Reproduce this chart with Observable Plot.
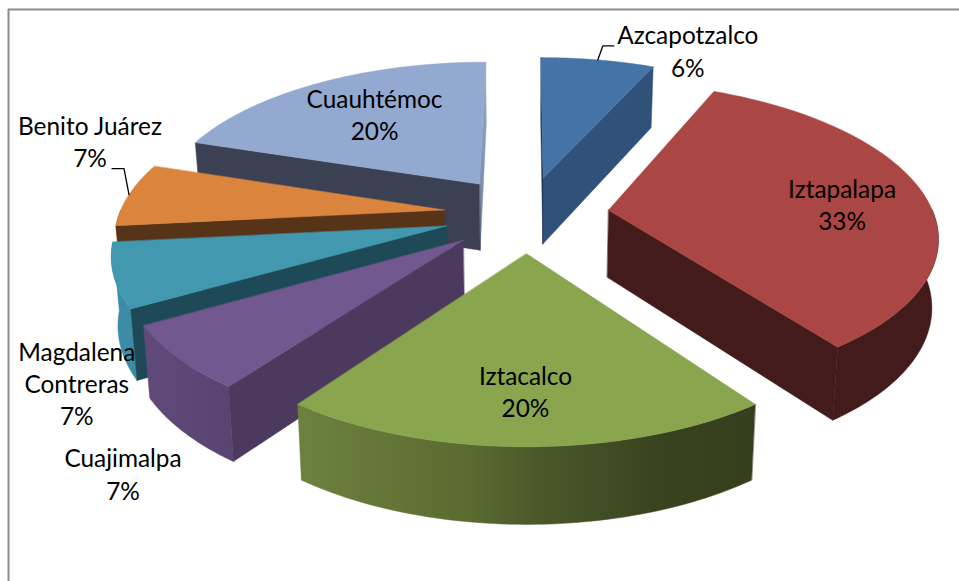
<!DOCTYPE html>
<html>
<head>
<meta charset="utf-8">
<script src="https://cdn.jsdelivr.net/npm/d3@7"></script>
<script src="https://cdn.jsdelivr.net/npm/@observablehq/plot@0.6"></script>
<style>html,body{margin:0;padding:0;background:#fff;overflow:hidden}</style>
</head>
<body>
<div id="chart"></div>
<script>
const categories = ["Azcapotzalco", "Iztapalapa", "Iztacalco", "Cuajimalpa", "Magdalena\nContreras", "Benito Juárez", "Cuauhtémoc"];
const shares = [6.67, 33.33, 20, 6.67, 6.67, 6.67, 20];
const shownPct = [6, 33, 20, 7, 7, 7, 20];

// Styles
const topColors = ["#4572a7", "#aa4643", "#89a54e", "#71588f", "#4198af", "#db843d", "#93a9cf"];
const startWall = ["#1f3a58", "#431b1a", "#3a451f", "#4b3a5e", "#1e4a57", "#573318", "#3b4153"];
const endWall = ["#30527a", "#431b1a", "#3a451f", "#4b3a5e", "#1e4a57", "#573318", "url(#blueEdge)"];
const rimWall = ["#30527a", "#431b1a", "url(#greenRim)", "url(#purpleRim)", "#3d8ca5", "#a8652e", "#5f6f8c"];
const drawOrder = [6, 5, 4, 3, 0, 1, 2];

// Pie geometry: a flat disc seen in perspective, slices exploded along their middle angle
const centre = {x: 526, y: 213.5}, scaleX = 325, scaleY = 149.4, persp = 0.155, explode = 0.255;
const floor = {shrink: 0.984, stretch: 1.044, drop: 58};
const rad = d => d * Math.PI / 180;

function project(X, Y) {
  const s = 1 / (1 - persp * Y);
  return {x: centre.x + scaleX * X * s, y: centre.y + scaleY * Y * s};
}
const lower = p => ({x: centre.x + (p.x - centre.x) * floor.shrink, y: p.y * floor.stretch + floor.drop});

let running = 0;
const slices = shares.map((v, i) => {
  const a0 = running; running += v * 3.6;
  return {i, a0, a1: running, mid: (a0 + running) / 2};
});
function onSlice(s, t, r) {
  const ex = explode * Math.sin(rad(s.mid)), ey = -explode * Math.cos(rad(s.mid));
  return project(ex + r * Math.sin(rad(t)), ey - r * Math.cos(rad(t)));
}
const arcBetween = (s, t0, t1) => d3.range(t0, t1 + 0.001, (t1 - t0) / 60).map(t => onSlice(s, t, 1));
const face = (points, fill) => Plot.line(points, {
  x: "x", y: "y", curve: "linear-closed", fill, stroke: fill, strokeWidth: 0.5
});
function sliceMarks(s) {
  const apex = onSlice(s, s.a0, 0), rim = arcBetween(s, s.a0, s.a1);
  const a = rim[0], b = rim[rim.length - 1];
  const marks = [];
  // only walls that face the viewer are drawn
  const t0 = Math.max(s.a0, 90), t1 = Math.min(s.a1, 270);
  if (t1 > t0) {
    const front = arcBetween(s, t0, t1);
    marks.push(face([...front, ...front.map(lower).reverse()], rimWall[s.i]));
  }
  if (s.a1 <= 180 || s.a1 > 359.5) marks.push(face([apex, b, lower(b), lower(apex)], endWall[s.i]));
  if (s.a0 >= 180 || s.a0 === 0) marks.push(face([apex, a, lower(a), lower(apex)], startWall[s.i]));
  marks.push(face([apex, ...rim], topColors[s.i]));
  return marks;
}

// Labels sit at an offset from the middle of each slice's rim
const labelOffset = [[90, -7], [-82, 12], [-1, -53], [-55, 118], [-37, 110], [-39, -51], [55, 34]];
const labels = slices.map(s => {
  const m = onSlice(s, s.mid, 1);
  return {x: m.x + labelOffset[s.i][0], y: m.y + labelOffset[s.i][1], text: `${categories[s.i]}\n${shownPct[s.i]}%`};
});
const leaderOffsets = {0: [[0, 0], [5, -14], [16, -14]], 5: [[0, 0], [-5, -26], [-17, -26]]};
const leaders = Object.entries(leaderOffsets).map(([i, pts]) => {
  const m = onSlice(slices[i], slices[i].mid, 1);
  return pts.map(([dx, dy]) => ({x: m.x + dx, y: m.y + dy}));
});

const gradients = () => d3.create("svg:defs").html(`
  <linearGradient id="greenRim" x1="0" x2="1" y1="0" y2="0">
    <stop offset="0" stop-color="#6d813f"/><stop offset="0.38" stop-color="#5a6a30"/>
    <stop offset="0.53" stop-color="#4a5829"/><stop offset="0.79" stop-color="#39431f"/>
    <stop offset="1" stop-color="#363f1d"/>
  </linearGradient>
  <linearGradient id="purpleRim" x1="0" x2="1" y1="0" y2="0">
    <stop offset="0" stop-color="#604a7a"/><stop offset="1" stop-color="#574470"/>
  </linearGradient>
  <linearGradient id="blueEdge" x1="0" x2="0" y1="0" y2="1">
    <stop offset="0" stop-color="#9aaed2"/><stop offset="1" stop-color="#6e7f9f"/>
  </linearGradient>`).node();

const chart = Plot.plot({
  width: 959, height: 581, margin: 0,
  style: {background: "#fff"},
  x: {domain: [0, 959], axis: null},
  y: {domain: [581, 0], axis: null},
  marks: [
    gradients,
    Plot.ruleX([8], {y1: 9, y2: 581, stroke: "#8c8c8c", strokeWidth: 2}),
    Plot.ruleY([9], {x1: 8, x2: 959, stroke: "#8c8c8c", strokeWidth: 2}),
    ...drawOrder.flatMap(i => sliceMarks(slices[i])),
    ...leaders.map(l => Plot.line(l, {x: "x", y: "y", stroke: "#000", strokeWidth: 1.3})),
    Plot.text(labels, {
      x: "x", y: "y", text: "text", fill: "#000",
      fontFamily: "Lato, 'Open Sans', sans-serif", fontSize: 24.4, lineHeight: 1.33, textAnchor: "middle", lineAnchor: "middle", dy: -3
    })
  ]
});
document.getElementById("chart").append(chart);
</script>
</body>
</html>
